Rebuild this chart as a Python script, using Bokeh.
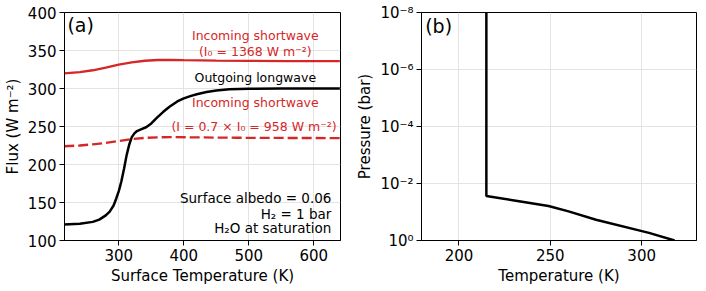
from bokeh.plotting import figure
from bokeh.models import Range1d, Label, FixedTicker, CustomJSTickFormatter
from bokeh.layouts import row
from bokeh.embed import file_html
from bokeh.resources import INLINE

FONT = "DejaVu Sans"
RED = "#d62728"

# Panel (a): fluxes vs surface temperature
olr_temp = [216, 240, 260, 270, 280, 286, 292, 296, 300, 304, 308, 312, 316, 320, 324,
            328, 335, 342, 350, 358, 368, 378, 390, 400, 410, 420, 435, 450, 470, 500,
            550, 640]
olr_flux = [121, 122, 124.5, 127.5, 133, 138, 146, 155, 165, 178, 194, 212, 226, 236, 241,
            244, 246.5, 249, 254, 261, 269, 276, 283, 287, 290, 292.5, 295.5, 297.5, 299,
            299.7, 300, 300]

sw_temp = [216, 240, 260, 280, 300, 320, 340, 360, 380, 400, 450, 500, 560, 640]
sw_full = [320, 321.5, 324, 327.5, 331.5, 334.5, 336.5, 337.5, 337.6, 337.3, 336.8, 336.4,
           336.1, 336]

sw07_temp = [216, 240, 260, 280, 300, 320, 340, 360, 380, 420, 480, 560, 640]
sw07_flux = [224, 225, 226.5, 228.5, 231, 233.5, 235, 235.8, 236, 235.7, 235.2, 234.9, 234.8]

x_ticks_a = [300, 400, 500, 600]
y_ticks_a = [100, 150, 200, 250, 300, 350, 400]

# Panel (b): temperature profile
prof_temp = [215, 215, 232, 249, 260, 275, 304, 318]
prof_pres = [1e-8, 0.0275, 0.041, 0.062, 0.095, 0.186, 0.54, 1.0]

x_ticks_b = [200, 250, 300]
y_ticks_b = [1e-8, 1e-6, 1e-4, 1e-2, 1]


def style(p):
    p.outline_line_color = "black"
    p.outline_line_width = 1
    for ax in (p.xaxis, p.yaxis):
        ax.axis_line_color = "black"
        ax.major_tick_in = 0
        ax.major_tick_out = 5
        ax.major_tick_line_color = "black"
        ax.minor_tick_line_color = None
        ax.major_label_text_font = FONT
        ax.major_label_text_font_size = "15px"
        ax.major_label_text_color = "black"
        ax.axis_label_text_font = FONT
        ax.axis_label_text_font_size = "15px"
        ax.axis_label_text_font_style = "normal"
        ax.axis_label_text_color = "black"
        ax.major_label_standoff = 3
        ax.axis_label_standoff = 3
    p.grid.grid_line_color = "#e3e3e3"
    p.grid.grid_line_width = 1


def lab(p, x, y, text, size, color="black", align="center"):
    p.add_layout(Label(x=x, y=y, text=text, text_font=FONT, text_font_size=size,
                       text_color=color, text_align=align, text_baseline="middle"))


p1 = figure(frame_width=276, frame_height=228, x_range=Range1d(216.5, 641),
            y_range=Range1d(100, 400), output_backend="svg", toolbar_location=None,
            min_border_left=57, min_border_right=13, min_border_top=12, min_border_bottom=35)
style(p1)
p1.xaxis.ticker = FixedTicker(ticks=x_ticks_a)
p1.yaxis.ticker = FixedTicker(ticks=y_ticks_a)
p1.xaxis.axis_label = "Surface Temperature (K)"
p1.yaxis.axis_label = "Flux (W m⁻²)"

p1.line(sw_temp, sw_full, line_color=RED, line_width=2.3)
p1.line(sw07_temp, sw07_flux, line_color=RED, line_width=2.3, line_dash="10 4")
p1.line(olr_temp, olr_flux, line_color="black", line_width=2.5)

lab(p1, 510, 369.7, "Incoming shortwave", "12.5px", RED)
lab(p1, 510, 348.7, "(I₀ = 1368 W m⁻²)", "12.5px", RED)
lab(p1, 510, 314, "Outgoing longwave", "12.5px")
lab(p1, 510, 281.6, "Incoming shortwave", "12.5px", RED)
lab(p1, 508, 249.6, "(I = 0.7 × I₀ = 958 W m⁻²)", "12.5px", RED)
lab(p1, 627, 155.3, "Surface albedo = 0.06", "13.5px", align="right")
lab(p1, 627, 135.5, "H₂ = 1 bar", "13.5px", align="right")
lab(p1, 627, 116.7, "H₂O at saturation", "13.5px", align="right")
lab(p1, 221, 383, "(a)", "19px", align="left")

p2 = figure(frame_width=275, frame_height=228, x_range=Range1d(179.5, 330),
            y_range=Range1d(1, 1e-8), y_axis_type="log", output_backend="svg",
            toolbar_location=None, min_border_left=68, min_border_right=1,
            min_border_top=12, min_border_bottom=35)
style(p2)
p2.xaxis.ticker = FixedTicker(ticks=x_ticks_b)
p2.yaxis.ticker = FixedTicker(ticks=y_ticks_b)
p2.yaxis.formatter = CustomJSTickFormatter(code="""
const sup = {'-': '\u207b', '0': '\u2070', '1': '\u00b9', '2': '\u00b2', '3': '\u00b3',
             '4': '\u2074', '5': '\u2075', '6': '\u2076', '7': '\u2077', '8': '\u2078', '9': '\u2079'};
const e = Math.round(Math.log10(tick));
return '10' + String(e).split('').map(c => sup[c]).join('');
""")
p2.xaxis.axis_label = "Temperature (K)"
p2.yaxis.axis_label = "Pressure (bar)"
p2.line(prof_temp, prof_pres, line_color="black", line_width=2.5)
lab(p2, 181.5, 2.9e-8, "(b)", "19px", align="left")

layout = row(p1, p2)
open("out.html", "w").write(file_html(layout, INLINE))
